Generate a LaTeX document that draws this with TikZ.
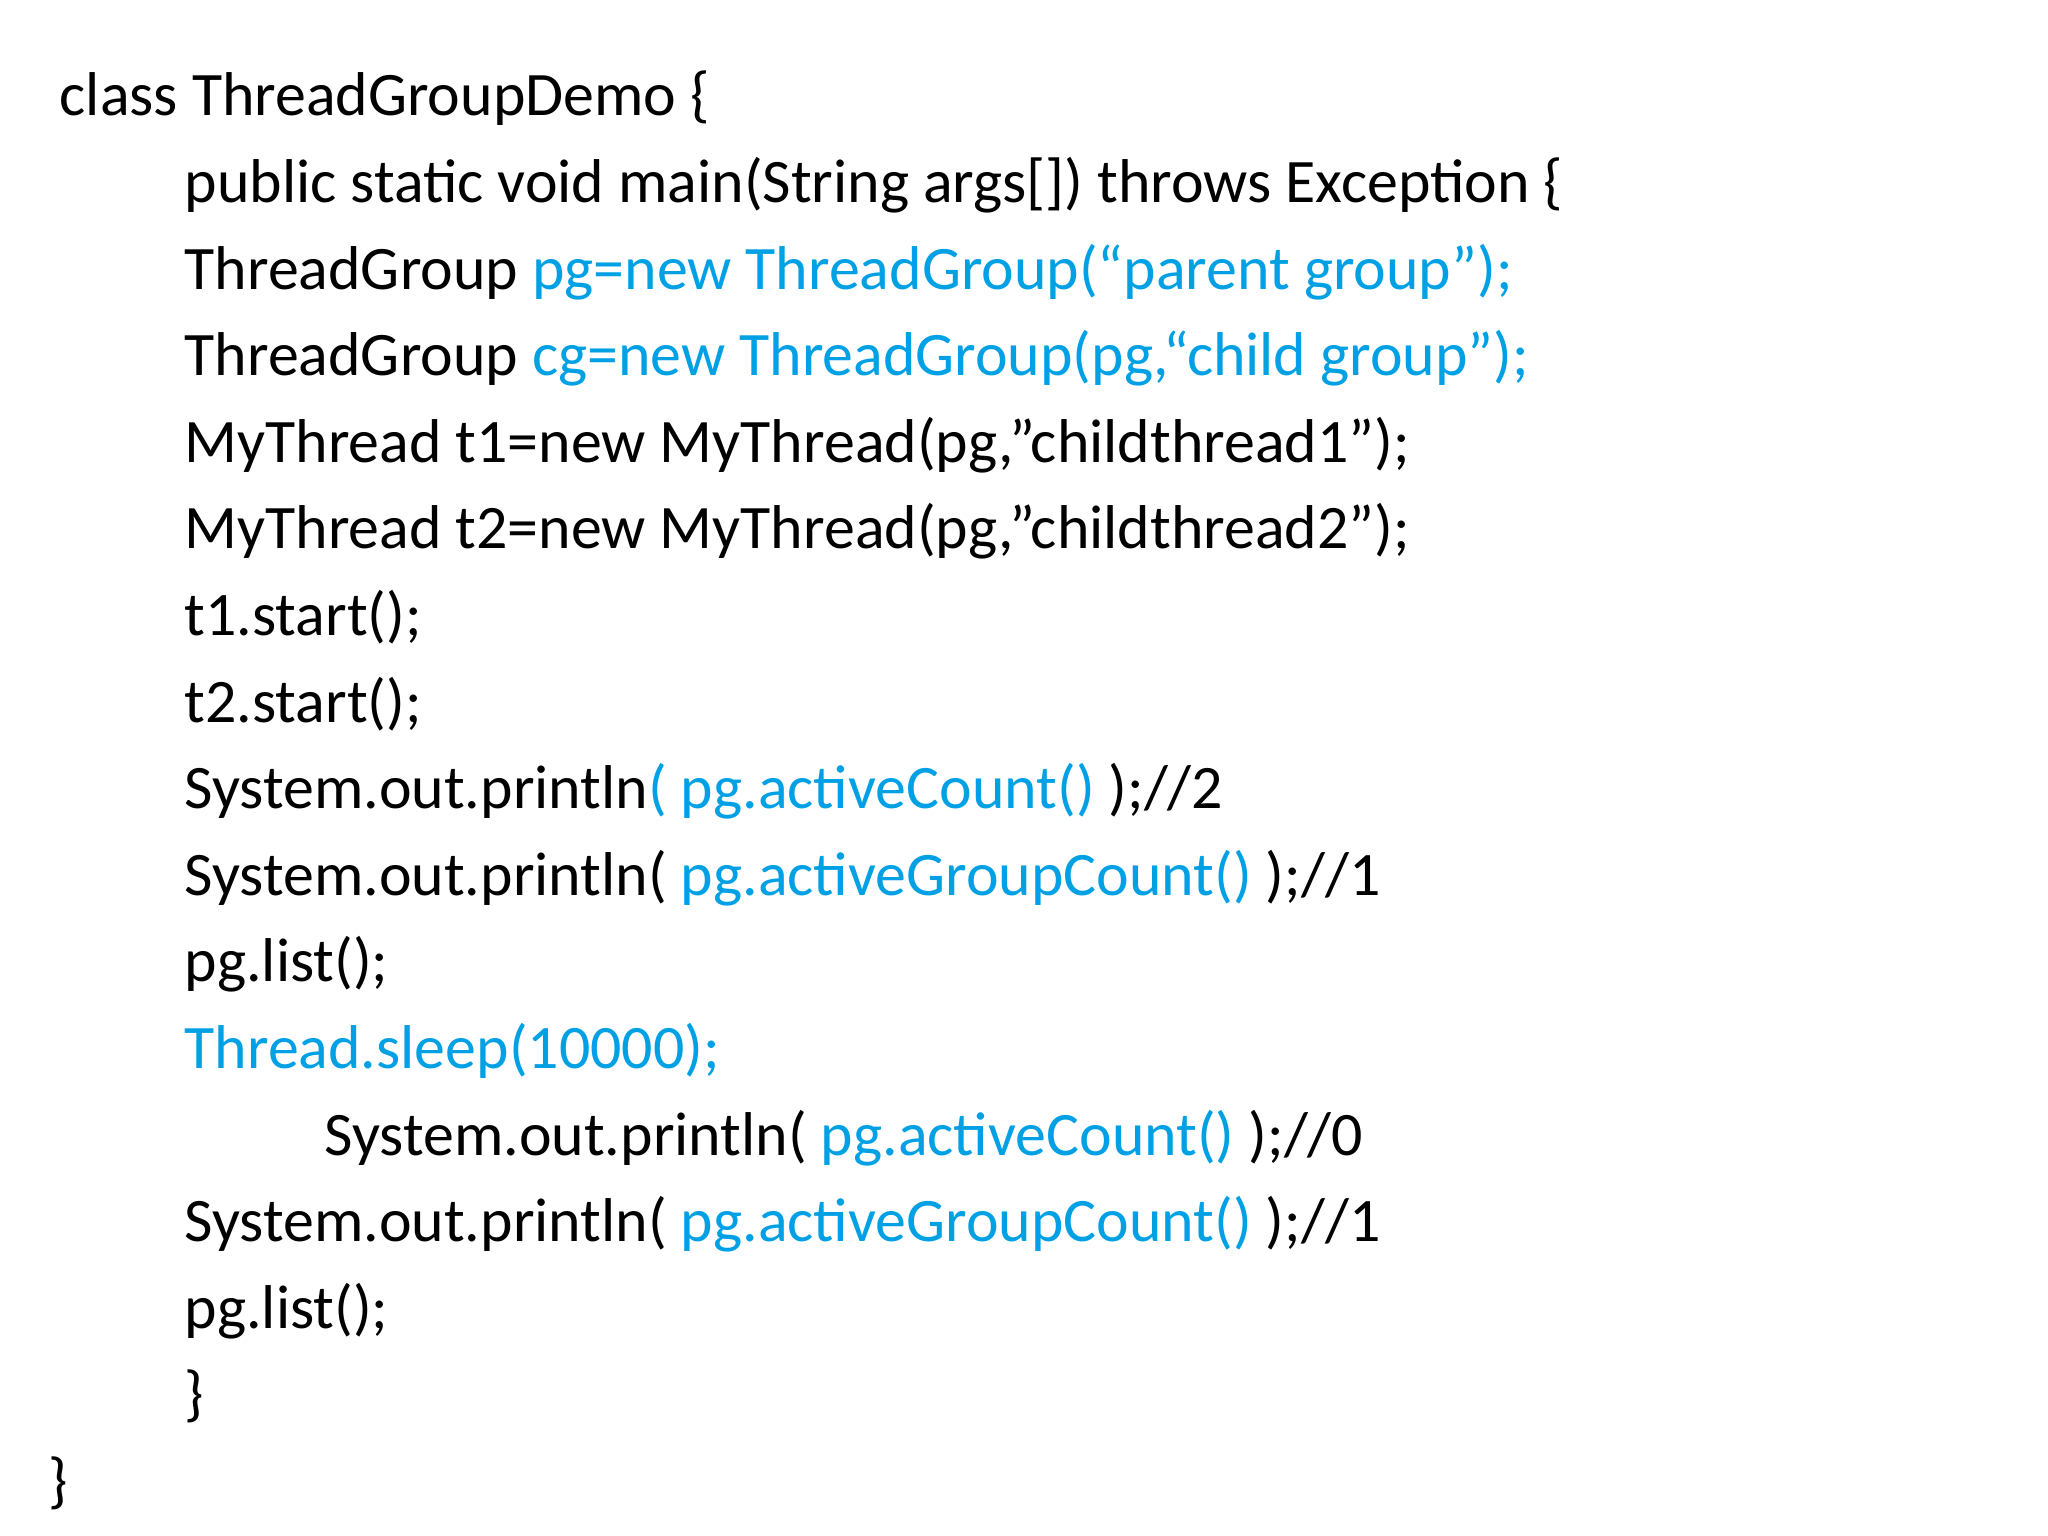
\documentclass[tikz,border=0pt]{standalone}
\usepackage{fontspec}
\setmainfont{Carlito}
\usetikzlibrary{positioning}
\definecolor{hl}{RGB}{0,160,228}
\tikzset{code/.style={anchor=base west, inner sep=0pt, font=\fontsize{17.6}{21}\selectfont}}
\newcommand{\hi}[1]{\textcolor{hl}{#1}}
\begin{document}
\begin{tikzpicture}
\useasboundingbox (0,0) rectangle (20.48,15.36);
\def\dy{0.866}
\def\y{14.20}
\node[code] (l0) at (0.59,\y) {class ThreadGroupDemo \{};
\node[code] (l1) at (1.84,\y-1*\dy) {public static void main(String args[]) throws Exception \{};
\node[code] (l2) at (1.84,\y-2*\dy) {ThreadGroup \hi{pg=new ThreadGroup(“parent group”);}};
\node[code] (l3) at (1.84,\y-3*\dy) {ThreadGroup \hi{cg=new ThreadGroup(pg,“child group”);}};
\node[code] (l4) at (1.84,\y-4*\dy) {MyThread t1=new MyThread(pg,”childthread1”);};
\node[code] (l5) at (1.84,\y-5*\dy) {MyThread t2=new MyThread(pg,”childthread2”);};
\node[code] (l6) at (1.84,\y-6*\dy) {t1.start();};
\node[code] (l7) at (1.84,\y-7*\dy) {t2.start();};
\node[code] (l8) at (1.84,\y-8*\dy) {System.out.println\hi{( pg.activeCount()} );//2};
\node[code] (l9) at (1.84,\y-9*\dy) {System.out.println( \hi{pg.activeGroupCount()} );//1};
\node[code] (l10) at (1.84,\y-10*\dy) {pg.list();};
\node[code] (l11) at (1.84,\y-11*\dy) {\hi{Thread.sleep(10000);}};
\node[code] (l12) at (3.24,\y-12*\dy) {System.out.println( \hi{pg.activeCount()} );//0};
\node[code] (l13) at (1.84,\y-13*\dy) {System.out.println( \hi{pg.activeGroupCount()} );//1};
\node[code] (l14) at (1.84,\y-14*\dy) {pg.list();};
\node[code] (l15) at (1.84,\y-15*\dy) {\}};
\node[code] (l16) at (0.48,\y-16*\dy) {\}};
\end{tikzpicture}
\end{document}
